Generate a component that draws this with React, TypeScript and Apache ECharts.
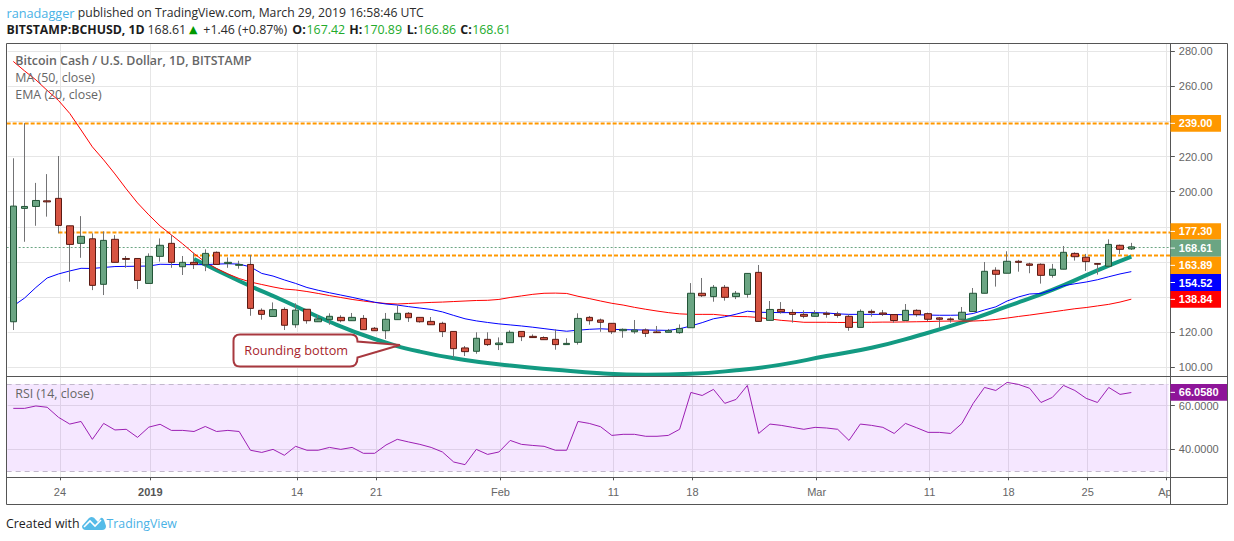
import React, { useEffect, useRef } from 'react';
import * as echarts from 'echarts';

const candleOpen = [126, 190.5, 191.6, 194.8, 196.2, 180.6, 170.6, 173.2, 147.3, 172.9, 162, 162, 147.8, 163.2, 170.6, 157.3, 159.8, 158.4, 165.5, 159.2, 158.1, 158.6, 132.5, 129, 133, 124.3, 133.1, 126, 127.2, 128.5, 126.6, 127.9, 122.3, 120.9, 127.2, 130.8, 128.5, 126.2, 125.1, 120.5, 111.1, 109.2, 116, 113, 114.1, 120.5, 117.7, 117, 116, 113, 114.3, 128.5, 127, 125.1, 120.9, 120.3, 121.3, 120.2, 120, 119.8, 122.6, 142.2, 140.3, 145.6, 140.3, 141.6, 154.1, 126.8, 133, 131.3, 130.2, 129.1, 130.8, 130.4, 129.1, 122.8, 131.9, 131, 130.1, 126.7, 132.5, 130.6, 128.2, 127.6, 127.4, 131.8, 142.2, 155.3, 153.6, 160.4, 158.9, 158.7, 152.4, 155.9, 164.9, 162.7, 159.1, 157.6, 169.5, 167.42];
const candleClose = [191.8, 191.6, 195, 194.2, 180.8, 170, 174.6, 146.7, 172.3, 159.8, 161.5, 149.5, 163.2, 169.5, 159.8, 159.8, 158.6, 164.9, 158.6, 159.8, 158.6, 133.6, 130.2, 132.9, 124, 132.6, 126.6, 127.6, 129.1, 126.6, 128.5, 121.5, 120.9, 127.4, 130.8, 128.3, 126, 124.3, 120.4, 110.7, 109, 116.6, 113, 113.9, 120, 117.5, 117, 115.8, 113, 113.7, 127.9, 126.6, 125.7, 120.3, 121.7, 121.3, 119.4, 119.8, 120.9, 122.2, 142.2, 140.8, 145.6, 139.9, 142.2, 153.5, 126.2, 133, 131.7, 130.2, 129.1, 130.8, 130.2, 129.6, 122.8, 131.9, 131.2, 130.3, 126.7, 132.5, 130.1, 127.4, 127.4, 127.2, 131.4, 142.2, 154.7, 153, 160.4, 159.8, 158.1, 152.4, 155.9, 165.5, 163, 160.2, 158.7, 170, 167.2, 168.61];
const candleLow = [121.3, 171.5, 180.6, 185.8, 176.3, 148.8, 162.4, 144, 141.2, 159.8, 156.7, 144.6, 147.8, 160.2, 156.7, 152.6, 156, 154.8, 158.6, 156.7, 156.2, 129.4, 127.2, 129, 121.3, 122.6, 124.9, 126, 124.3, 125.7, 126.6, 121.5, 120.9, 116.2, 127.2, 125.9, 125.5, 124.3, 117.3, 105.6, 106.5, 107.8, 112.2, 109.9, 114.1, 115, 117, 115.8, 110.1, 113, 113, 124.3, 120.3, 119, 116.9, 119.2, 117.3, 119.8, 120, 119.2, 122.6, 140.1, 137.4, 138, 138.9, 139.7, 126.2, 126.8, 130.6, 125.5, 128, 129.1, 128.3, 128.3, 120.9, 122.8, 128.9, 129.3, 125.5, 126.7, 128.9, 126.3, 122.5, 125.5, 127.4, 131.8, 142.2, 146, 153.6, 154.5, 153.6, 147.7, 151.1, 155.9, 160.8, 154.9, 152.8, 157.6, 164.6, 166.86];
const candleHigh = [219, 239, 205, 210, 220.3, 180.6, 186.1, 176.3, 177.4, 175.3, 163.4, 162, 164.9, 173.4, 175.3, 163.4, 165.3, 167.2, 166, 162.6, 160.7, 164, 133.6, 137, 134.2, 136.5, 133.1, 129.8, 130.8, 129.7, 131, 129.8, 123, 131, 135.3, 131.5, 128.5, 128.7, 126, 120.5, 112.2, 120, 120, 117.1, 121.1, 120.5, 118.8, 117.7, 121.7, 116.6, 130.8, 129.3, 127.8, 125.1, 122.2, 127, 122.2, 123.6, 121.9, 124.5, 148, 150.9, 146.9, 146.9, 143.5, 153.5, 158.3, 137.8, 137.2, 133, 132.5, 132.5, 131.9, 131.7, 130.2, 133, 133, 132.7, 130.1, 136.1, 133.1, 131.2, 128.6, 128.5, 134.4, 145.2, 160, 157, 166.1, 161.2, 159.6, 159.2, 158.9, 169.1, 165.5, 164.6, 159.3, 172.9, 169.9, 170.89];

const ma50 = [274.1, 268.7, 263.6, 257.6, 251.9, 244.5, 235.1, 225.5, 218.1, 210.1, 201.6, 193.6, 186.8, 180.5, 175.4, 170.3, 164.8, 160, 156.3, 153.2, 150.6, 148.6, 147.2, 145.8, 144.6, 144.1, 143.2, 142.1, 140.9, 139.8, 138.7, 137.8, 137, 136.4, 136.1, 136.4, 136.7, 137, 137.2, 137.5, 137.8, 138.1, 138.2, 138.7, 139.8, 140.7, 141.6, 142.2, 142.3, 142.1, 140.5, 139.2, 137.8, 136.5, 135.5, 134.2, 133.1, 132.1, 131.2, 130.5, 130.2, 130.2, 130.2, 129.6, 129, 128.9, 128.4, 127.6, 126.8, 126.3, 125.7, 125.7, 125.7, 125.6, 125.6, 125.7, 125.7, 125.8, 125.8, 125.9, 126, 126.1, 126.3, 126.4, 126.4, 126.4, 126.7, 127.3, 128.1, 129, 129.8, 130.7, 131.6, 132.5, 133.4, 134.1, 135, 135.9, 137.2, 138.84];
const ema20 = [135, 139.5, 145.5, 150.9, 153.2, 154.9, 156.4, 156.3, 156.9, 157.4, 157.5, 157.6, 157.7, 158.7, 158.6, 158.5, 158.5, 158.5, 158.8, 159, 158.8, 157.2, 153.5, 152, 149.8, 147.8, 145.5, 143.9, 142.5, 141.2, 139.9, 138.5, 137.1, 136.1, 135.5, 134.6, 133.8, 133, 131.6, 129.6, 127.7, 126.5, 125.6, 124.8, 124.2, 123.6, 122.9, 122.1, 121.3, 120.6, 121.2, 121.7, 122, 121.7, 121.5, 121.4, 121.3, 121.2, 121.1, 122, 123.6, 125.5, 127.7, 128.8, 130.3, 132, 131.4, 131.3, 131.2, 131.2, 131.2, 131.2, 131, 130.5, 130.2, 130.2, 130.2, 130.2, 130.1, 130, 130, 129.8, 129.7, 129.7, 129.8, 130.7, 132.7, 134.5, 137.8, 140.1, 141.8, 142.1, 144.1, 146.5, 147.6, 148.6, 149.9, 151.6, 153.2, 154.52];
const rsi = [58.8, 58.8, 59.9, 59.3, 54.7, 51.6, 52.8, 44.6, 51.9, 48.9, 49.2, 45.5, 50.2, 51.5, 48.7, 48.7, 48.2, 50.5, 48.2, 48.7, 48.2, 39.6, 38.6, 40, 37.3, 41.4, 39.6, 39.6, 40.9, 40, 40.9, 38.2, 38.2, 42, 44.6, 43.4, 42.3, 40.9, 38.8, 34.2, 33, 40, 37.7, 38.8, 44.1, 42.3, 41.8, 41.4, 39.6, 39.6, 52.8, 51.9, 50.4, 46.4, 46.9, 46.9, 46, 46, 46.4, 49.2, 66.1, 64.7, 67.5, 61.1, 62.9, 69.3, 47.3, 51.6, 51, 50.1, 49.2, 50.1, 49.8, 49.2, 44.1, 51.6, 51, 50.1, 47.3, 51.9, 49.9, 47.8, 47.8, 47.3, 51.9, 61.1, 68.4, 67, 70.7, 69.8, 68, 61.5, 63.8, 69.3, 67, 63.4, 61.5, 68.4, 65.2, 66.058];

// hand drawn curve, sampled every few days
const curveDays = [16, 20, 24, 28, 32, 36, 40, 44, 48, 52, 56, 60, 64, 68, 72, 76, 80, 84, 88, 92, 96, 99];
const curveValues = [161.7, 149.2, 137.8, 126, 116.2, 109, 104.3, 101.1, 98.7, 96.7, 95.9, 96.4, 98.4, 101.6, 106.5, 111.2, 117.9, 125.6, 134.7, 144.1, 155.2, 163];

const tickDays = [4, 12, 25, 32, 43, 53, 60, 71, 81, 88, 95, 102];
const tickLabels = ['24', '2019', '14', '21', 'Feb', '11', '18', 'Mar', '11', '18', '25', 'Apr'];
const priceTicks = [100, 120, 140, 160, 180, 200, 220, 240, 260, 280];
// 140, 160, 180 and 240 sit under the price tags
const priceLabels = [100, 120, 200, 220, 260, 280];
const rsiTicks = [40, 60];

// first day of each level line, price
const resistanceLevels = [[0, 239], [4, 177.3], [16, 163.89]];
const lastClose = 168.61;
const rsiBand = [30, 70];

const START = Date.UTC(2018, 11, 20);
const categories = Array.from({ length: 103 }, (_, i) =>
	new Date(START + i * 86400000).toISOString().slice(0, 10)
);

const UI_FONT = '"Open Sans", sans-serif';
const AXIS_FONT = '"Liberation Sans", Arial, sans-serif';
const FRAME = '#555555';
const GRID_LINE = '#e6e6e6';
const BLUE_LINK = '#4ab2e6';
const GREEN_VAL = '#22ab2b';

echarts.graphic.registerShape(
	'callout',
	echarts.graphic.extendPath(
		'M240 334.5 H351 Q357.5 334.5 357.5 341.5 L400 345 L357.5 357.5 Q357.5 366.5 350 366.5 H240 Q233.5 366.5 233.5 360 V341 Q233.5 334.5 240 334.5 Z',
		{}
	)
);
echarts.graphic.registerShape(
	'tvLogo',
	echarts.graphic.extendPath(
		'M82 526 L89 518 Q93 515 96 520 L98 522 L100 519 Q102 516 104 520 L106 526 Q106 530 102 530 H86 Q82 530 82 526 Z',
		{}
	)
);

const label = (x: number, y: number, text: string, fontSize: number, fill: string, extra: any = {}) => ({
	type: 'text',
	x,
	y,
	z: 60,
	silent: true,
	style: {
		text,
		fill,
		fontSize,
		fontFamily: UI_FONT,
		textVerticalAlign: 'middle',
		...extra
	}
});

const tag = (top: number, bottom: number, right: number, fill: string, text: string) => [
	{
		type: 'rect',
		z: 58,
		silent: true,
		shape: { x: 1170.5, y: top, width: right - 1170.5, height: bottom - top },
		style: { fill }
	},
	{
		type: 'line',
		z: 59,
		silent: true,
		shape: { x1: 1170.5, y1: (top + bottom) / 2, x2: 1175, y2: (top + bottom) / 2 },
		style: { stroke: '#ffffff', lineWidth: 1 }
	},
	label(1178.8, (top + bottom) / 2, text, 11, '#ffffff', { fontFamily: AXIS_FONT, fontWeight: 'bold' })
];

// level line that runs from a given day to the right edge of the pane
const levelSeries = (name: string, axis: number, rows: number[][], style: any, inset = 0) => ({
	type: 'custom',
	name,
	xAxisIndex: axis,
	yAxisIndex: axis,
	z: 2,
	silent: true,
	data: rows,
	encode: { x: 0, y: 1 },
	renderItem: (params: any, api: any) => {
		const from = api.coord([api.value(0), api.value(1)]);
		const box = params.coordSys;
		const y = Math.round(from[1]) + 0.5;
		return {
			type: 'line',
			shape: { x1: api.value(0) === 0 ? box.x - 1 : from[0], y1: y, x2: box.x + box.width - inset, y2: y },
			style
		};
	}
});

const buildOption = () => {
	const bodyData = candleOpen.map((o, i) => {
		const c = candleClose[i];
		return [o, c, Math.min(o, c), Math.max(o, c)];
	});
	const wickData = candleOpen.map((o, i) => [o, candleClose[i], candleLow[i], candleHigh[i]]);

	return {
		animation: false,
		backgroundColor: '#ffffff',
		grid: [
			{ left: 7.65, top: 43.5, width: 1163.2, height: 332.8 },
			{ left: 7.65, top: 376.3, width: 1163.2, height: 101 },
			{ left: 9.15, top: 43.5, width: 1163.2, height: 433.8 }
		],
		xAxis: [
			{ type: 'category', gridIndex: 0, data: categories, show: false, boundaryGap: true },
			{ type: 'category', gridIndex: 1, data: categories, show: false, boundaryGap: true },
			{
				type: 'category',
				gridIndex: 2,
				data: categories,
				boundaryGap: true,
				axisLine: { show: false },
				axisTick: {
					show: true,
					alignWithLabel: true,
					length: 3,
					interval: (i: number) => tickDays.includes(i),
					lineStyle: { color: FRAME }
				},
				splitLine: {
					show: true,
					alignWithLabel: true,
					interval: (i: number) => tickDays.includes(i),
					lineStyle: { color: GRID_LINE, width: 1 }
				},
				axisLabel: {
					interval: (i: number) => tickDays.includes(i),
					margin: 9,
					fontSize: 11,
					fontFamily: AXIS_FONT,
					color: '#666666',
					formatter: (_: string, i: number) => {
						const text = tickLabels[tickDays.indexOf(i)];
						return text === '2019' ? '{year|2019}' : text;
					},
					rich: { year: { fontSize: 11, fontFamily: AXIS_FONT, fontWeight: 'bold', color: '#555555' } }
				}
			}
		],
		yAxis: [
			{
				type: 'value',
				gridIndex: 0,
				position: 'right',
				min: 94.97,
				max: 284.3,
				axisLine: { show: false },
				axisTick: { show: true, length: 4, customValues: priceTicks, lineStyle: { color: FRAME } },
				axisLabel: {
					customValues: priceLabels,
					margin: 8,
					fontSize: 11,
					fontFamily: AXIS_FONT,
					color: '#666666',
					formatter: (v: number) => v.toFixed(2)
				},
				splitLine: { show: true, lineStyle: { color: GRID_LINE, width: 1 } }
			},
			{
				type: 'value',
				gridIndex: 1,
				position: 'right',
				min: 27.2,
				max: 73.5,
				axisLine: { show: false },
				axisTick: { show: true, length: 4, customValues: rsiTicks, lineStyle: { color: FRAME } },
				axisLabel: {
					customValues: rsiTicks,
					margin: 8,
					fontSize: 11,
					fontFamily: AXIS_FONT,
					color: '#666666',
					formatter: (v: number) => v.toFixed(4)
				},
				splitLine: { show: true, lineStyle: { color: GRID_LINE, width: 1 } }
			},
			{ type: 'value', gridIndex: 2, show: false, min: 0, max: 1, splitLine: { show: false } }
		],
		series: [
			levelSeries('Levels', 0, resistanceLevels, { stroke: '#ff9800', lineWidth: 2, lineDash: [4, 2] }),
			levelSeries('Last', 0, [[0, lastClose]], { stroke: '#6ba583', lineWidth: 1, lineDash: [2, 2] }),
			{
				type: 'line',
				name: 'Rounding bottom',
				xAxisIndex: 0,
				yAxisIndex: 0,
				z: 3,
				smooth: true,
				symbol: 'none',
				silent: true,
				lineStyle: { color: '#139a82', width: 4 },
				data: curveDays.map((d, i) => [d, curveValues[i]])
			},
			{
				type: 'line',
				name: 'MA (50, close)',
				xAxisIndex: 0,
				yAxisIndex: 0,
				z: 4,
				symbol: 'none',
				silent: true,
				lineStyle: { color: '#ff0000', width: 1 },
				data: ma50
			},
			{
				type: 'line',
				name: 'EMA (20, close)',
				xAxisIndex: 0,
				yAxisIndex: 0,
				z: 4,
				symbol: 'none',
				silent: true,
				lineStyle: { color: '#0000ff', width: 1 },
				data: ema20
			},
			{
				type: 'candlestick',
				name: 'wicks',
				xAxisIndex: 0,
				yAxisIndex: 0,
				z: 5,
				barWidth: 1,
				silent: true,
				itemStyle: {
					color: '#737375',
					color0: '#737375',
					borderColor: '#737375',
					borderColor0: '#737375',
					borderWidth: 1
				},
				data: wickData
			},
			{
				type: 'candlestick',
				name: 'BCHUSD',
				xAxisIndex: 0,
				yAxisIndex: 0,
				z: 6,
				barWidth: 7,
				silent: true,
				itemStyle: {
					color: '#6ba583',
					color0: '#d75442',
					borderColor: '#225437',
					borderColor0: '#5b1a13',
					borderWidth: 1
				},
				data: bodyData
			},
			{
				type: 'custom',
				name: 'RSI band',
				xAxisIndex: 1,
				yAxisIndex: 1,
				z: 1,
				silent: true,
				data: [[0, rsiBand[0], rsiBand[1]]],
				encode: { x: 0, y: [1, 2] },
				renderItem: (params: any, api: any) => {
					const low = api.coord([0, api.value(1)]);
					const high = api.coord([0, api.value(2)]);
					const box = params.coordSys;
					return {
						type: 'rect',
						shape: { x: box.x - 1, y: high[1], width: box.width - 1.5, height: low[1] - high[1] },
						style: { fill: 'rgba(153, 21, 255, 0.1)' }
					};
				}
			},
			levelSeries('RSI levels', 1, rsiBand.map(v => [0, v]), { stroke: '#c2b8cc', lineWidth: 1, lineDash: [5, 4] }, 2.5),
			{
				type: 'line',
				name: 'RSI (14, close)',
				xAxisIndex: 1,
				yAxisIndex: 1,
				z: 4,
				symbol: 'none',
				silent: true,
				lineStyle: { color: '#9c1fb3', width: 1 },
				data: rsi
			}
		],
		graphic: [
			// cover for the axis column, the last date label is cut off by it
			{ type: 'rect', z: 50, silent: true, shape: { x: 1171, y: 478, width: 56, height: 26 }, style: { fill: '#ffffff' } },

			{ type: 'rect', z: 55, silent: true, shape: { x: 6.5, y: 43.5, width: 1221, height: 461 }, style: { fill: 'none', stroke: FRAME, lineWidth: 1 } },
			{ type: 'line', z: 55, silent: true, shape: { x1: 1170.5, y1: 43.5, x2: 1170.5, y2: 504.5 }, style: { stroke: FRAME, lineWidth: 1 } },
			{ type: 'line', z: 55, silent: true, shape: { x1: 6.5, y1: 376.5, x2: 1227.5, y2: 376.5 }, style: { stroke: FRAME, lineWidth: 1 } },
			{ type: 'line', z: 55, silent: true, shape: { x1: 6.5, y1: 477.5, x2: 1227.5, y2: 477.5 }, style: { stroke: FRAME, lineWidth: 1 } },

			label(6.5, 12.5, 'ranadagger', 12.7, BLUE_LINK),
			label(77.7, 12.5, 'published on TradingView.com, March 29, 2019 16:58:46 UTC', 12.2, '#2b2b2b'),
			label(6.5, 29.5, 'BITSTAMP:BCHUSD, 1D', 12.3, '#1c1c1c', { fontWeight: 'bold' }),
			label(147.5, 29.5, '168.61', 12.4, '#2b2b2b'),
			label(189, 29.5, '▲', 11, '#009900', { fontFamily: '"DejaVu Sans", sans-serif' }),
			label(203.3, 29.5, '+1.46 (+0.87%)', 12.4, '#2b2b2b'),
			label(292.3, 29.5, 'O:', 12.4, '#1c1c1c', { fontWeight: 'bold' }),
			label(306.5, 29.5, '167.42', 12.4, GREEN_VAL),
			label(349.3, 29.5, 'H:', 12.4, '#1c1c1c', { fontWeight: 'bold' }),
			label(363.3, 29.5, '170.89', 12.4, GREEN_VAL),
			label(406.7, 29.5, 'L:', 12.4, '#1c1c1c', { fontWeight: 'bold' }),
			label(417.5, 29.5, '166.86', 12.4, GREEN_VAL),
			label(460.3, 29.5, 'C:', 12.4, '#1c1c1c', { fontWeight: 'bold' }),
			label(472.2, 29.5, '168.61', 12.4, GREEN_VAL),

			label(15.3, 60.5, 'Bitcoin Cash / U.S. Dollar, 1D, BITSTAMP', 12.4, '#666666', { fontWeight: 600 }),
			label(15.3, 77.5, 'MA (50, close)', 12.4, '#666666'),
			label(15.3, 94.5, 'EMA (20, close)', 12.4, '#666666'),
			label(15.3, 393.5, 'RSI (14, close)', 12.4, '#666666'),

			{ type: 'callout', z: 40, silent: true, style: { fill: '#ffffff', stroke: '#a8383f', lineWidth: 2 } },
			label(244.3, 350, 'Rounding bottom', 12.7, '#a61e2a', { z: 41 }),

			label(6, 523.5, 'Created with', 12.4, '#1c1c1c'),
			{ type: 'tvLogo', z: 60, silent: true, style: { fill: '#55bbe8' } },
			{ type: 'polyline', z: 61, silent: true, shape: { points: [[84, 527], [90, 521], [95, 526], [101, 520]] }, style: { stroke: '#ffffff', lineWidth: 1.6, fill: 'none' } },
			label(106.5, 523.5, 'TradingView', 12.3, BLUE_LINK),

			...tag(115, 131.7, 1221, '#ff9800', '239.00'),
			...tag(223.3, 239.5, 1221, '#ff9800', '177.30'),
			...tag(239.5, 256.7, 1221, '#6ba583', '168.61'),
			...tag(256.7, 274, 1221, '#ff9800', '163.89'),
			...tag(274, 291, 1221, '#0000ff', '154.52'),
			...tag(291, 307.7, 1221, '#ff0000', '138.84'),
			...tag(384, 400.7, 1227, '#8e1599', '66.0580')
		]
	};
};

const App: React.FC = () => {
	const chartRef = useRef<HTMLDivElement>(null);

	useEffect(() => {
		if (!chartRef.current) return;
		const chart = echarts.init(chartRef.current, undefined, { renderer: 'svg' });
		chart.setOption(buildOption() as any);
		return () => {
			chart.dispose();
		};
	}, []);

	return (
		<div
			ref={chartRef}
			style={{ position: 'fixed', left: 0, top: 0, width: '1234px', height: '541px', background: '#ffffff' }}
		/>
	);
};

export default App;
